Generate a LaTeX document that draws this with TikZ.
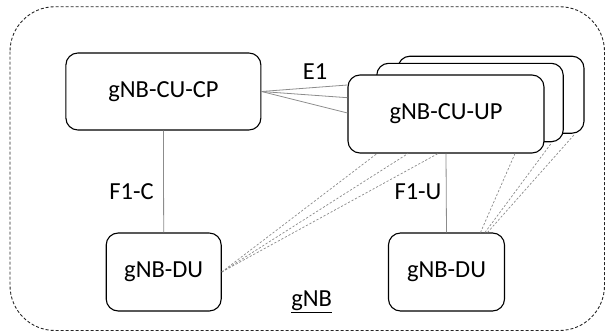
\documentclass[tikz,border=0pt]{standalone}
\usepackage{fontspec}
\setmainfont{Carlito}
\usetikzlibrary{calc}
\definecolor{conn}{HTML}{8C8C8C}
\definecolor{dconn}{HTML}{8A8A8A}
\tikzset{
  nodebox/.style={draw=black, line width=1.1pt, rounded corners=12pt, fill=white, inner sep=0pt, font=\fontsize{24.5}{28}\selectfont},
  lbl/.style={inner sep=0pt, font=\fontsize{24.5}{28}\selectfont},
  solidconn/.style={draw=conn, line width=0.8pt},
  dashconn/.style={draw=dconn, line width=0.7pt, dash pattern=on 2.2pt off 1.8pt},
  outerbox/.style={draw=black!85, line width=0.9pt, dash pattern=on 3pt off 2pt, rounded corners=45pt}
}
\begin{document}
\begin{tikzpicture}[x=1pt,y=-1pt]
\useasboundingbox (0,0) rectangle (606,332);
\draw[outerbox] (10,6.7) rectangle (604.5,330.5);
% boxes
\node[nodebox, minimum width=186pt, minimum height=77pt] (cuupb) at (491,94.7) {};
\node[nodebox, minimum width=186.5pt, minimum height=78.4pt] (cuupm) at (470,102.5) {};
\node[nodebox, minimum width=196pt, minimum height=78pt] (front) at (446,114) {gNB-CU-UP};
\node[nodebox, minimum width=195pt, minimum height=77pt] (cucp) at (163.4,91.5) {gNB-CU-CP};
\node[nodebox, minimum width=115pt, minimum height=78pt] (ldu) at (163.7,272) {gNB-DU};
\node[nodebox, minimum width=116pt, minimum height=78pt] (rdu) at (446.5,272) {gNB-DU};
% dashed connectors
\draw[dashconn] ($(rdu.north)+(34,0)$) -- ($(front.south)+(69,0)$);
\draw[dashconn] ($(rdu.north)+(38.5,0)$) -- ($(cuupm.south)+(82,0)$);
\draw[dashconn] ($(rdu.north)+(41,0)$) -- ($(cuupb.south)+(84,0)$);
\draw[dashconn] (ldu.east) -- ($(front.south)+(-69,0)$);
\draw[dashconn] (ldu.east) -- ($(front.south)+(-38,0)$);
\draw[dashconn] (ldu.east) -- ($(front.south)+(-8,0)$);
% solid connectors
\draw[solidconn] (cucp.east) -- ($(front.west)+(0,-29)$);
\draw[solidconn] (cucp.east) -- ($(front.west)+(0,-16.3)$);
\draw[solidconn] (cucp.east) -- ($(front.west)+(0,-1)$);
\draw[solidconn] (cucp.south) -- (ldu.north);
\draw[solidconn] (front.south) -- (rdu.north);
% labels
\node[lbl] (e1) at (315,72) {E1};
\node[lbl] (f1c) at (131.5,192) {F1-C};
\node[lbl] (f1u) at (418,192) {F1-U};
\node[lbl] (gnb) at (311.7,302) {\underline{gNB}};
\end{tikzpicture}
\end{document}
